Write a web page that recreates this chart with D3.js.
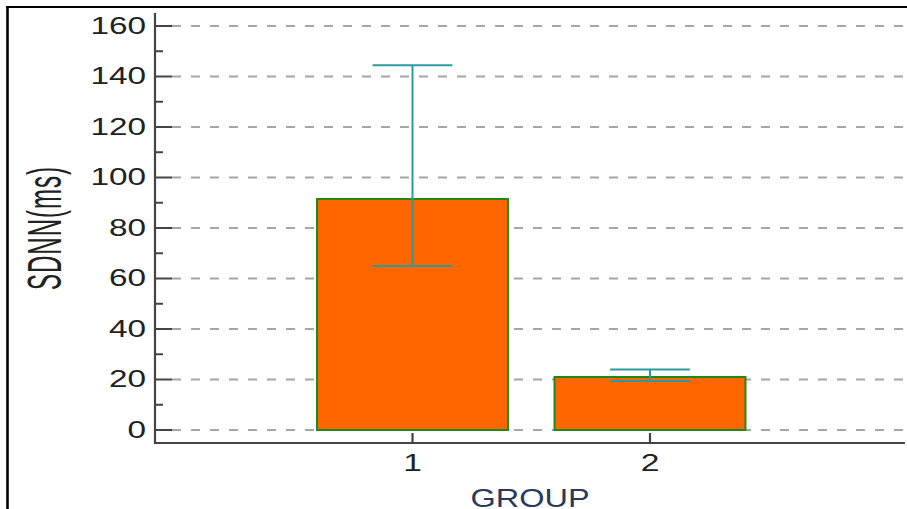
<!DOCTYPE html>
<html><head><meta charset="utf-8">
<script src="https://cdn.jsdelivr.net/npm/d3@7"></script>
<style>html,body{margin:0;padding:0;background:#fff;}svg{display:block;}</style>
</head><body>
<svg id="c" width="907" height="509"></svg>
<script>
const groups = [1, 2];
const means = [91.5, 21];
const errLow = [65, 19.4];
const errHigh = [144.5, 24];
const yTicks = [0, 20, 40, 60, 80, 100, 120, 140, 160];
const yMinorTicks = [10, 30, 50, 70, 90, 110, 130, 150];
const xLabel = "GROUP";
const yLabel = "SDNN(ms)";

const svg = d3.select("#c");
const W = 907, H = 509;
const axL = 155, axR = 905, axB = 443, axT = 13;

const x = d3.scaleLinear().domain([0, 3]).range([175, 887.5]);
const y = d3.scaleLinear().domain([0, 160]).range([430, 26]);
const barHalf = 0.402, capHalf = 0.168;

// frame
svg.append("line").attr("x1", 6).attr("x2", W).attr("y1", 7).attr("y2", 7).attr("stroke", "#000").attr("stroke-width", 2.2);
svg.append("line").attr("x1", 7.5).attr("x2", 7.5).attr("y1", 6).attr("y2", H).attr("stroke", "#000").attr("stroke-width", 2.6);

// grid
svg.append("g").selectAll("line").data(yTicks).join("line")
  .attr("x1", axL + 17).attr("x2", axR)
  .attr("y1", d => y(d)).attr("y2", d => y(d))
  .attr("stroke", "#a6a6a6").attr("stroke-width", 1.8)
  .attr("stroke-dasharray", "9,10");

// bars
svg.append("g").selectAll("rect").data(groups).join("rect")
  .attr("x", (d) => x(d - barHalf))
  .attr("width", d => x(d + barHalf) - x(d - barHalf))
  .attr("y", (d, i) => y(means[i]))
  .attr("height", (d, i) => y(0) - y(means[i]))
  .attr("fill", "#ff6600").attr("stroke", "#1d8a1d").attr("stroke-width", 2);

// error bars
const eb = svg.append("g").attr("stroke", "#2a9c9c").attr("stroke-width", 2);
eb.selectAll(".stem").data(groups).join("line")
  .attr("x1", d => x(d)).attr("x2", d => x(d))
  .attr("y1", (d, i) => y(errLow[i])).attr("y2", (d, i) => y(errHigh[i]));
eb.selectAll(".capH").data(groups).join("line")
  .attr("x1", d => x(d - capHalf)).attr("x2", d => x(d + capHalf))
  .attr("y1", (d, i) => y(errHigh[i])).attr("y2", (d, i) => y(errHigh[i]));
eb.selectAll(".capL").data(groups).join("line")
  .attr("x1", d => x(d - capHalf)).attr("x2", d => x(d + capHalf))
  .attr("y1", (d, i) => y(errLow[i])).attr("y2", (d, i) => y(errLow[i]));

// axes lines
const axCol = "#444";
svg.append("line").attr("x1", axL).attr("x2", axL).attr("y1", axT).attr("y2", axB + 1).attr("stroke", axCol).attr("stroke-width", 2.2);
svg.append("line").attr("x1", axL - 1).attr("x2", axR).attr("y1", axB).attr("y2", axB).attr("stroke", axCol).attr("stroke-width", 2.2);

// y ticks
svg.append("g").selectAll("line").data(yTicks).join("line")
  .attr("x1", axL).attr("x2", axL + 17).attr("y1", d => y(d)).attr("y2", d => y(d))
  .attr("stroke", axCol).attr("stroke-width", 2);
svg.append("g").selectAll("line").data(yMinorTicks).join("line")
  .attr("x1", axL).attr("x2", axL + 8).attr("y1", d => y(d)).attr("y2", d => y(d))
  .attr("stroke", axCol).attr("stroke-width", 2);
svg.append("g").selectAll("text").data(yTicks).join("text")
  .attr("transform", d => `translate(146,${y(d) + 7.5}) scale(1.45,1)`)
  .attr("text-anchor", "end")
  .attr("font-family", "Liberation Sans, Arial, sans-serif").attr("font-size", 23)
  .attr("fill", "#222").text(d => d);

// x ticks
svg.append("g").selectAll("line").data(groups).join("line")
  .attr("x1", d => x(d)).attr("x2", d => x(d)).attr("y1", axB).attr("y2", axB - 10)
  .attr("stroke", axCol).attr("stroke-width", 2.2);
svg.append("g").selectAll("text").data(groups).join("text")
  .attr("transform", d => `translate(${x(d)},471) scale(1.4,1)`)
  .attr("text-anchor", "middle")
  .attr("font-family", "Liberation Sans, Arial, sans-serif").attr("font-size", 24)
  .attr("fill", "#222").text(d => d);

// axis titles
svg.append("text")
  .attr("transform", `translate(${(axL + axR) / 2},506.5) scale(1.25,1)`)
  .attr("text-anchor", "middle")
  .attr("font-family", "Liberation Sans, Arial, sans-serif").attr("font-size", 26)
  .attr("fill", "#2a3a5a").text(xLabel);

svg.append("text")
  .attr("transform", `translate(61,${(axT + axB) / 2}) rotate(-90) scale(0.5,1)`)
  .attr("text-anchor", "middle")
  .attr("font-family", "Liberation Sans, Arial, sans-serif").attr("font-size", 48)
  .attr("letter-spacing", 2)
  .attr("fill", "#222").text(yLabel);
</script>
</body></html>
